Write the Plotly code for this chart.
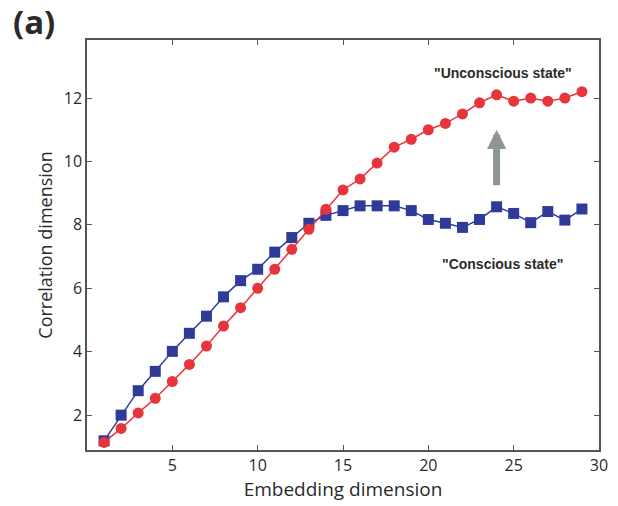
import plotly.graph_objects as go

embedding = list(range(1, 30))
conscious = [1.19, 2.0, 2.77, 3.38, 4.01, 4.58, 5.12, 5.73, 6.24, 6.6, 7.14, 7.6, 8.05,
             8.3, 8.45, 8.6, 8.6, 8.6, 8.45, 8.17, 8.05, 7.92, 8.17, 8.57, 8.36, 8.07, 8.42, 8.15, 8.5]
unconscious = [1.14, 1.58, 2.07, 2.53, 3.06, 3.6, 4.18, 4.81, 5.39, 6.0, 6.6, 7.23, 7.86,
               8.49, 9.1, 9.45, 9.95, 10.45, 10.7, 11.0, 11.2, 11.5, 11.85, 12.1, 11.9, 12.0, 11.9, 12.0, 12.2]
x_ticks = [5, 10, 15, 20, 25, 30]
y_ticks = [2, 4, 6, 8, 10, 12]

RED = "#e8353b"
BLUE = "#2f3b98"
TXT = "#2a2a2a"

fig = go.Figure()
fig.add_trace(go.Scatter(
    x=embedding, y=conscious, mode="lines+markers",
    line=dict(color=BLUE, width=1.5),
    marker=dict(symbol="square", size=11, color=BLUE, line=dict(width=0)),
    showlegend=False))
fig.add_trace(go.Scatter(
    x=embedding, y=unconscious, mode="lines+markers",
    line=dict(color=RED, width=1.5),
    marker=dict(symbol="circle", size=11, color=RED, line=dict(width=0)),
    showlegend=False))

# arrow
fig.add_annotation(x=24, y=11.0, ax=24, ay=9.2, xref="x", yref="y", axref="x", ayref="y",
                   showarrow=True, arrowhead=2, arrowsize=0.55, arrowwidth=7,
                   arrowcolor="#8e9599", text="")

fig.add_annotation(x=24.35, y=12.8, xref="x", yref="y", text='<b>"Unconscious state"</b>',
                   showarrow=False, font=dict(family="Liberation Sans", size=14, color=TXT))
fig.add_annotation(x=24.35, y=6.77, xref="x", yref="y", text='<b>"Conscious state"</b>',
                   showarrow=False, font=dict(family="Liberation Sans", size=14, color=TXT))
fig.add_annotation(x=-0.148, y=1.045, xref="paper", yref="paper", xanchor="left", yanchor="middle",
                   text="<b>(a)</b>", showarrow=False,
                   font=dict(family="Open Sans", size=33, color=TXT))

axis_common = dict(showline=True, linecolor="#555555", linewidth=1.5, mirror="ticks",
                   ticks="inside", ticklen=5, tickcolor="#555555", showgrid=False, zeroline=False,
                   tickfont=dict(family="Open Sans", size=16, color=TXT))

fig.update_xaxes(range=[0, 30], tickvals=x_ticks,
                 title=dict(text="Embedding dimension", standoff=3,
                            font=dict(family="Open Sans", size=19, color=TXT)),
                 **axis_common)
fig.update_yaxes(range=[0.9, 13.83], tickvals=y_ticks,
                 title=dict(text="Correlation dimension", standoff=6,
                            font=dict(family="Open Sans", size=18, color=TXT)),
                 **axis_common)

fig.update_layout(width=618, height=506, margin=dict(l=87, r=10, t=40, b=56),
                  plot_bgcolor="white", paper_bgcolor="white")

fig.write_html("out.html")
